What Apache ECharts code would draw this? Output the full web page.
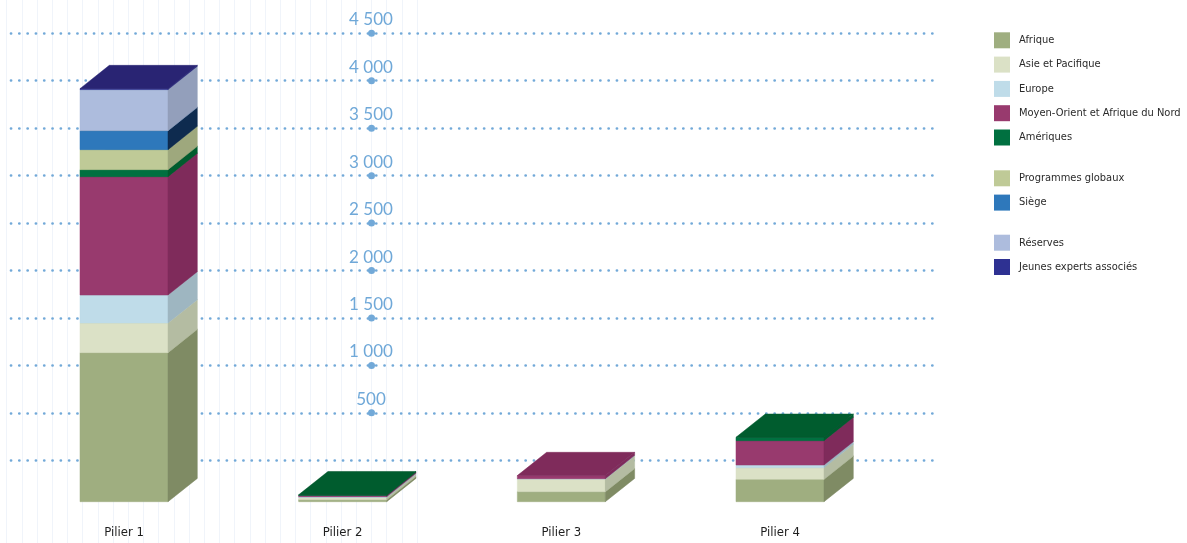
<!DOCTYPE html>
<html>
<head>
<meta charset="utf-8">
<script src="https://cdn.jsdelivr.net/npm/echarts@6/dist/echarts.min.js"></script>
<style>
html,body{margin:0;padding:0;background:#fff;}
#chart{width:1187px;height:543px;}
</style>
</head>
<body>
<div id="chart"></div>
<script>
// ---- data ----
const categories = ['Pilier 1', 'Pilier 2', 'Pilier 3', 'Pilier 4'];
const afrique        = [1572, 20, 105, 236];
const asiePacifique  = [313, 25, 134, 123];
const europe         = [295, 8, 4, 28];
const moyenOrient    = [1248, 12, 32, 257];
const ameriques      = [74, 8, 0, 35];
const programmesGlobaux = [211, 0, 0, 0];
const siege          = [200, 0, 0, 0];
const reserves       = [433, 0, 0, 0];
const jeunesExperts  = [10, 0, 0, 0];
const yTicks = [0, 500, 1000, 1500, 2000, 2500, 3000, 3500, 4000, 4500];

const layerNames = ['Afrique', 'Asie et Pacifique', 'Europe', 'Moyen-Orient et Afrique du Nord', 'Amériques',
  'Programmes globaux', 'Siège', 'Réserves', 'Jeunes experts associés'];
const layerValues = [afrique, asiePacifique, europe, moyenOrient, ameriques,
  programmesGlobaux, siege, reserves, jeunesExperts];

// ---- styles ----
const faceColors = [
  {front:'#9fae80', side:'#7f8b64', top:'#8c9a6e'},
  {front:'#dbe1c6', side:'#b4bca2', top:'#c8cfb2'},
  {front:'#bfdce9', side:'#9eb6c1', top:'#aecad6'},
  {front:'#983a6e', side:'#7f2b5b', top:'#7f2b5b'},
  {front:'#007040', side:'#005c2e', top:'#005c2e'},
  {front:'#bfca97', side:'#9ea87d', top:'#aab488'},
  {front:'#2e78bb', side:'#0e2b4f', top:'#1d4f80'},
  {front:'#adbcdd', side:'#939fbb', top:'#9eaccb'},
  {front:'#2e3192', side:'#2a2a7a', top:'#292473'}
];
const DX = 29.3, DY = 23.3;
const narrow = "'DejaVu Sans Condensed','Liberation Sans',sans-serif";
const gridColor = '#72a9d8';

function makeRender(c) {
  return function (params, api) {
    const cat = api.value(0), b = api.value(1), t = api.value(2);
    if (!(t > b)) return null;
    const pb = api.coord([cat, b]), pt = api.coord([cat, t]);
    const w = api.size([1, 0])[0] * 0.4025;
    const l = pb[0] - w / 2, r = pb[0] + w / 2, yb = pb[1], yt = pt[1];
    return {
      type: 'group',
      children: [
        {type: 'rect', shape: {x: l, y: yt, width: w, height: yb - yt},
         style: {fill: c.front, stroke: c.front, lineWidth: 0.5}},
        {type: 'polygon', shape: {points: [[r, yb], [r + DX, yb - DY], [r + DX, yt - DY], [r, yt]]},
         style: {fill: c.side, stroke: c.side, lineWidth: 0.5}},
        {type: 'polygon', shape: {points: [[l, yt], [r, yt], [r + DX, yt - DY], [l + DX, yt - DY]]},
         style: {fill: c.top, stroke: c.top, lineWidth: 0.5}}
      ]
    };
  };
}

const barSeries = [];
const cum = categories.map(() => 0);
layerNames.forEach((name, k) => {
  const vals = layerValues[k];
  const data = categories.map((c, i) => {
    const b = cum[i];
    cum[i] += vals[i];
    return [i, b, cum[i]];
  });
  barSeries.push({
    type: 'custom', name: name, xAxisIndex: 2, yAxisIndex: 2,
    renderItem: makeRender(faceColors[k]),
    itemStyle: {color: faceColors[k].front},
    encode: {x: 0, y: [1, 2]},
    clip: false, z: 5,
    data: data
  });
});

const legendText = {color: '#2a2a2a', fontSize: 11, fontFamily: narrow, padding: [0, 0, 0, 4]};
const legendBase = {orient: 'vertical', left: 994, itemWidth: 16, itemHeight: 16, itemGap: 8.3,
  icon: 'rect', selectedMode: false, textStyle: legendText, padding: 0};

const chart = echarts.init(document.getElementById('chart'), null, {renderer: 'canvas'});
chart.setOption({
  animation: false,
  backgroundColor: '#ffffff',
  legend: [
    Object.assign({}, legendBase, {top: 32.3, data: layerNames.slice(0, 5)}),
    Object.assign({}, legendBase, {top: 170.3, data: layerNames.slice(5, 7)}),
    Object.assign({}, legendBase, {top: 234.7, data: layerNames.slice(7, 9)})
  ],
  grid: [
    {left: 11, right: 1187 - 933, top: 33.3, bottom: 543 - 460.3},          // dotted gridlines
    {left: 371, right: 1187 - 372, top: 33.3, bottom: 543 - 460.3},         // labels + dots
    {left: 14.67, right: 1187 - 889.33, top: 75, bottom: 543 - 501.7},      // bars
    {left: 6.7, right: 1187 - 417.1, top: 0, bottom: 0}                     // faint vertical lines
  ],
  xAxis: [
    {gridIndex: 0, type: 'value', min: 0, max: 1, show: false},
    {gridIndex: 1, type: 'value', min: -1, max: 1, show: false},
    {gridIndex: 2, type: 'category', data: categories,
     axisLine: {show: false}, axisTick: {show: false},
     axisLabel: {color: '#1e1e1e', fontSize: 13, fontFamily: narrow, margin: 24}},
    {gridIndex: 3, type: 'value', min: 0, max: 27, interval: 1,
     axisLine: {show: false}, axisTick: {show: false}, axisLabel: {show: false},
     splitLine: {show: true, lineStyle: {color: '#f0f4fa', width: 1}}, z: 0}
  ],
  yAxis: [
    {gridIndex: 0, type: 'value', min: 0, max: 4500, interval: 500,
     axisLine: {show: false}, axisTick: {show: false}, axisLabel: {show: false},
     splitLine: {show: true, lineStyle: {color: gridColor, width: 2.7, type: [0.1, 8.2], cap: 'round'}}, z: 1},
    {gridIndex: 1, type: 'value', min: 0, max: 4500, interval: 500,
     axisLine: {show: false}, axisTick: {show: false}, splitLine: {show: false},
     axisLabel: {color: '#6fa8d8', fontSize: 17, fontFamily: 'Lato', align: 'center', margin: 0,
       verticalAlign: 'bottom', padding: [0, 0, 5, 0],
       formatter: v => v === 0 ? '' : String(v).replace(/\B(?=(\d{3})+(?!\d))/g, ' ')}},
    {gridIndex: 2, type: 'value', min: 0, max: 4500, show: false},
    {gridIndex: 3, type: 'value', min: 0, max: 1, show: false}
  ],
  series: [
    {type: 'scatter', name: 'ticks', xAxisIndex: 1, yAxisIndex: 1, symbol: 'circle', symbolSize: 7,
     itemStyle: {color: gridColor, opacity: 1}, silent: true, clip: false, z: 2,
     data: yTicks.filter(v => v > 0).map(v => [0, v])}
  ].concat(barSeries)
});
</script>
</body>
</html>
